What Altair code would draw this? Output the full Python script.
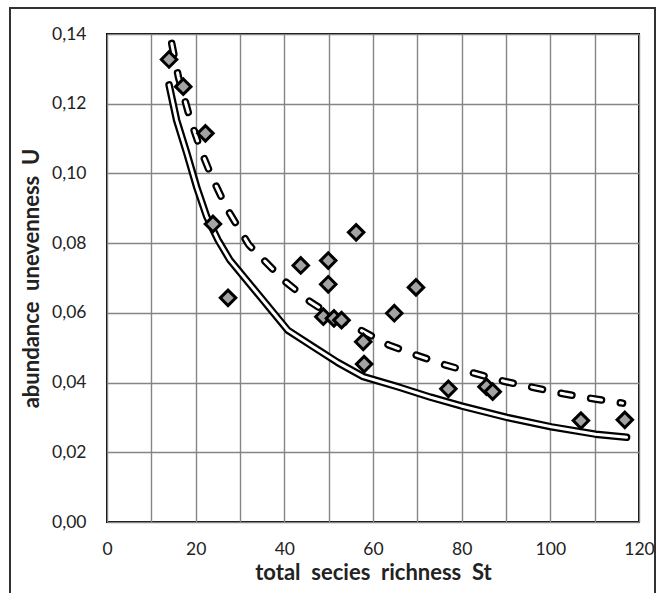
import altair as alt
import pandas as pd

# Observed data (diamonds)
st_obs = [14.0, 17.2, 22.2, 23.9, 27.3, 43.7, 49.9, 49.9, 48.8, 51.2, 52.9,
          56.2, 57.8, 58.0, 64.8, 69.7, 77.0, 85.6, 87.0, 106.9, 116.8]
u_obs = [0.1327, 0.1249, 0.1115, 0.0855, 0.0643, 0.0736, 0.0750, 0.0682, 0.0589, 0.0584, 0.0579,
         0.0831, 0.0517, 0.0453, 0.0599, 0.0673, 0.0382, 0.0388, 0.0374, 0.0291, 0.0293]

# Solid curve
st_solid = [14, 15.7, 18, 20.2, 22.5, 25, 27.7, 40.8, 46.5, 52, 57.8, 66.1, 73, 79.9, 90.2, 100.2, 110.2, 117.2]
u_solid = [0.1254, 0.1153, 0.1058, 0.0962, 0.0876, 0.0810, 0.0752, 0.0550, 0.0503, 0.0458, 0.0417,
           0.0386, 0.0358, 0.0333, 0.0300, 0.0273, 0.0252, 0.0243]

# Dashed curve
st_dash = [14.6, 16.1, 18.6, 21.0, 23.6, 27.0, 32, 39.8, 45.8, 51, 57.1, 63.5, 69.7, 76.2, 82.8,
           89.8, 96.5, 103.3, 110.4, 116.3]
u_dash = [0.1373, 0.1277, 0.1163, 0.1072, 0.0991, 0.0900, 0.0795, 0.0694, 0.0632, 0.0590, 0.0551,
          0.0508, 0.0479, 0.0451, 0.0427, 0.0403, 0.0385, 0.0367, 0.0352, 0.0341]

x_grid = list(range(0, 121, 10))
y_grid = [i / 100 for i in range(0, 15)]

obs = pd.DataFrame({"St": st_obs, "U": u_obs})
solid = pd.DataFrame({"St": st_solid, "U": u_solid, "o": list(range(len(st_solid)))})
dash = pd.DataFrame({"St": st_dash, "U": u_dash, "o": list(range(len(st_dash)))})

FONT = "Lato"

x_enc = alt.X("St:Q", scale=alt.Scale(domain=[0, 120], nice=False, zero=False),
              axis=alt.Axis(values=x_grid, title="total\u00a0 secies\u00a0 richness\u00a0 St",
                            labelExpr="datum.value % 20 == 0 ? datum.label : ''",
                            ticks=False, domain=False, labelPadding=18, titlePadding=5,
                            labelFontSize=17.5, titleFontSize=22, labelFont=FONT, titleFont=FONT,
                            titleFontWeight="bold", labelColor="#222222", titleColor="#222222",
                            grid=True, gridColor="#858585", gridWidth=1.4, labelFlush=False))
y_enc = alt.Y("U:Q", scale=alt.Scale(domain=[0, 0.14], nice=False, zero=False),
              axis=alt.Axis(values=y_grid, title="abundance\u00a0 unevenness\u00a0 U",
                            labelExpr="round(datum.value*100) % 2 == 0 ? replace(format(datum.value, '.2f'), '.', ',') : ''",
                            ticks=False, domain=False, labelPadding=21, titlePadding=8,
                            labelFontSize=17.5, titleFontSize=22, labelFont=FONT, titleFont=FONT,
                            titleFontWeight="bold", labelColor="#222222", titleColor="#222222",
                            grid=True, gridColor="#858585", gridWidth=1.4, labelFlush=False))

base_solid = alt.Chart(solid).encode(x=x_enc, y=y_enc, order="o:Q")
solid_outer = base_solid.mark_line(color="black", strokeWidth=7.5, strokeCap="round", strokeJoin="round")
solid_inner = base_solid.mark_line(color="white", strokeWidth=3, strokeCap="round", strokeJoin="round")

base_dash = alt.Chart(dash).encode(x="St:Q", y="U:Q", order="o:Q")
dash_outer = base_dash.mark_line(color="black", strokeWidth=7.5, strokeCap="round",
                                 strokeJoin="round", strokeDash=[11, 19])
dash_inner = base_dash.mark_line(color="white", strokeWidth=3, strokeCap="round",
                                 strokeJoin="round", strokeDash=[11, 19])

points = alt.Chart(obs).mark_point(shape="diamond", size=240, filled=True, fill="#a3a3a3",
                                   stroke="black", strokeWidth=3, opacity=1).encode(x="St:Q", y="U:Q")

frame = alt.Chart(obs).mark_rect(fill=None, stroke="#333333", strokeWidth=1.2, clip=False).encode(
    x=alt.value(-97), x2=alt.value(548), y=alt.value(-26), y2=alt.value(600))

chart = alt.layer(solid_outer, solid_inner, dash_outer, dash_inner, points, frame).properties(
    width=532, height=488,
    autosize=alt.AutoSizeParams(type="none"),
    padding={"left": 107, "top": 34, "right": 18, "bottom": 71},
    background="white",
).configure_view(stroke="black", strokeWidth=2)

chart.save("out.html", embed_options={"renderer": "svg", "actions": False})
